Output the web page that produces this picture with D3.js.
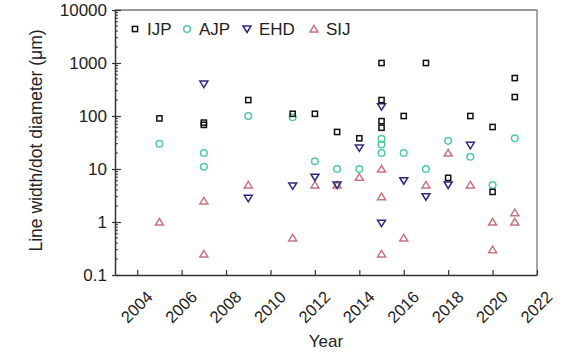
<!DOCTYPE html>
<html>
<head>
<meta charset="utf-8">
<script src="https://cdn.jsdelivr.net/npm/d3@7"></script>
<style>
  body { margin: 0; background: #fff; }
  text { font-family: "Liberation Sans", Arial, sans-serif; }
</style>
</head>
<body>
<script>
// Data: [year, value in µm]
var ijp = [[2005, 90], [2007, 75], [2007, 68], [2009, 200], [2011, 110], [2012, 110],
           [2013, 50], [2014, 38], [2015, 1000], [2015, 200], [2015, 80], [2015, 60],
           [2016, 100], [2017, 1000], [2018, 6.8], [2019, 100], [2020, 62], [2020, 3.7],
           [2021, 520], [2021, 228]];
var ajp = [[2005, 30], [2007, 20], [2007, 11], [2009, 100], [2011, 95], [2012, 14],
           [2013, 10], [2014, 10], [2015, 37], [2015, 29], [2015, 20], [2016, 20],
           [2017, 10], [2018, 34], [2019, 17], [2020, 5], [2021, 38]];
var ehd = [[2007, 400], [2009, 2.8], [2011, 4.8], [2012, 7], [2013, 5], [2014, 25],
           [2015, 150], [2015, 0.95], [2016, 6], [2017, 3], [2018, 5], [2019, 28]];
var sij = [[2005, 1], [2007, 2.5], [2007, 0.25], [2009, 5], [2011, 0.5], [2012, 5],
           [2013, 5], [2014, 7], [2015, 10], [2015, 3], [2015, 0.25], [2016, 0.5],
           [2017, 5], [2018, 20], [2019, 5], [2020, 1], [2020, 0.3], [2021, 1.5], [2021, 1]];
var xTicks = [2004, 2006, 2008, 2010, 2012, 2014, 2016, 2018, 2020, 2022];
var yTicks = [0.1, 1, 10, 100, 1000, 10000];

var margin = {top: 10, right: 48, bottom: 79, left: 115},
    width = 585 - margin.left - margin.right,
    height = 354 - margin.top - margin.bottom;

var svg = d3.select("body").append("svg")
    .attr("width", 585)
    .attr("height", 354)
  .append("g")
    .attr("transform", "translate(" + margin.left + "," + margin.top + ")");

var x = d3.scaleLinear().domain([2003, 2022]).range([0, width]);
var y = d3.scaleLog().domain([0.1, 10000]).range([height, 0]);

// frame: top and right lighter
svg.append("line").attr("x1", 0).attr("x2", width).attr("y1", 0).attr("y2", 0)
    .attr("stroke", "#777").attr("stroke-width", 1.3);
svg.append("line").attr("x1", width).attr("x2", width).attr("y1", 0).attr("y2", height)
    .attr("stroke", "#777").attr("stroke-width", 1.3);

// x axis
var xAxis = svg.append("g")
    .attr("transform", "translate(0," + height + ")")
    .call(d3.axisBottom(x).tickValues(xTicks).tickSizeInner(-5).tickSizeOuter(0).tickFormat(d3.format("d")));
xAxis.select(".domain").attr("stroke", "#333").attr("stroke-width", 1.5);
xAxis.selectAll(".tick line").attr("stroke", "#333").attr("stroke-width", 1.2);
xAxis.selectAll(".tick text")
    .attr("font-size", 16.5)
    .attr("fill", "#222")
    .attr("text-anchor", "end")
    .attr("dy", 0)
    .attr("y", 0)
    .attr("transform", "translate(16,23) rotate(-45)");

// y axis minor ticks
var minor = [];
for (var e = -1; e < 4; e++) {
  for (var m = 2; m <= 9; m++) minor.push(m * Math.pow(10, e));
}
svg.append("g").selectAll("line.minor")
    .data(minor)
    .enter().append("line")
    .attr("x1", 0).attr("x2", 3)
    .attr("y1", function(d) { return y(d); })
    .attr("y2", function(d) { return y(d); })
    .attr("stroke", "#333").attr("stroke-width", 1);

var yAxis = svg.append("g")
    .call(d3.axisLeft(y).tickValues(yTicks).tickSizeInner(3).tickSizeOuter(0).tickPadding(5)
      .tickFormat(function(d) { return d < 1 ? "0.1" : d3.format("d")(d); }));
yAxis.select(".domain").attr("stroke", "#333").attr("stroke-width", 1.5);
yAxis.selectAll(".tick line").attr("x2", 6).attr("x1", -3).attr("stroke", "#333").attr("stroke-width", 1.2);
yAxis.selectAll(".tick text").attr("font-size", 17).attr("fill", "#222");

// axis titles
svg.append("text")
    .attr("text-anchor", "middle")
    .attr("x", width / 2)
    .attr("y", height + 72)
    .attr("font-size", 17)
    .attr("fill", "#222")
    .text("Year");

svg.append("text")
    .attr("text-anchor", "middle")
    .attr("transform", "rotate(-90)")
    .attr("x", -height / 2 + 2)
    .attr("y", -73)
    .attr("font-size", 17.5)
    .attr("fill", "#222")
    .text("Line width/dot diameter (μm)");

// symbols
var series = [
  {name: "IJP", data: ijp, color: "#111", shape: "square"},
  {name: "AJP", data: ajp, color: "#52c8a4", shape: "circle"},
  {name: "EHD", data: ehd, color: "#2c2a7c", shape: "down"},
  {name: "SIJ", data: sij, color: "#c4757f", shape: "up"}
];

function drawMark(g, shape, color) {
  if (shape === "square") {
    g.append("rect").attr("x", -2.6).attr("y", -2.6).attr("width", 5.2).attr("height", 5.2);
  } else if (shape === "circle") {
    g.append("circle").attr("r", 3.3);
  } else if (shape === "down") {
    g.append("path").attr("d", "M-4,-3L4,-3L0,3.5Z");
  } else {
    g.append("path").attr("d", "M-4,3L4,3L0,-3.5Z");
  }
  g.selectAll("*").attr("fill", "none").attr("stroke", color).attr("stroke-width", 1.5);
}

series.slice().reverse().forEach(function(s) {
  svg.append("g").selectAll("g")
      .data(s.data)
      .enter().append("g")
      .attr("transform", function(d) { return "translate(" + x(d[0]) + "," + y(d[1]) + ")"; })
      .each(function() { drawMark(d3.select(this), s.shape, s.color); });
});

// legend
var legendX = [20, 72, 132, 199];
series.forEach(function(s, i) {
  var g = svg.append("g").attr("transform", "translate(" + legendX[i] + ",19)");
  drawMark(g.append("g"), s.shape, s.color);
  g.append("text")
      .attr("x", 12)
      .attr("y", 6)
      .attr("font-size", 17)
      .attr("fill", "#222")
      .text(s.name);
});
</script>
</body>
</html>
